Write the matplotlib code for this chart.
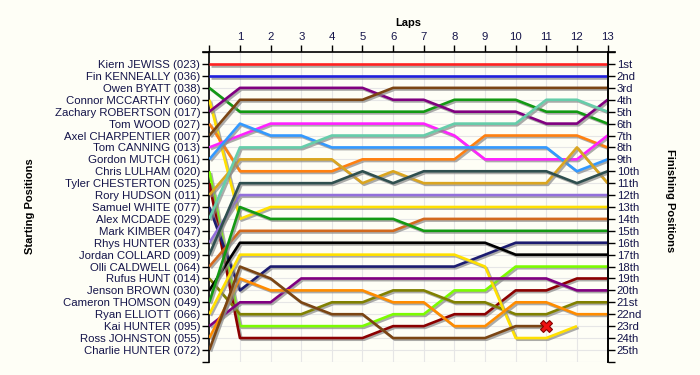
import matplotlib
matplotlib.use("Agg")
import matplotlib.pyplot as plt
import matplotlib.patheffects as pe

# laps (0 = starting grid)
laps = list(range(0, 14))

starters = [
    "Kiern JEWISS (023)", "Fin KENNEALLY (036)", "Owen BYATT (038)",
    "Connor MCCARTHY (060)", "Zachary ROBERTSON (017)", "Tom WOOD (027)",
    "Axel CHARPENTIER (007)", "Tom CANNING (013)", "Gordon MUTCH (061)",
    "Chris LULHAM (020)", "Tyler CHESTERTON (025)", "Rory HUDSON (011)",
    "Samuel WHITE (077)", "Alex MCDADE (029)", "Mark KIMBER (047)",
    "Rhys HUNTER (033)", "Jordan COLLARD (009)", "Olli CALDWELL (064)",
    "Rufus HUNT (014)", "Jenson BROWN (030)", "Cameron THOMSON (049)",
    "Ryan ELLIOTT (066)", "Kai HUNTER (095)", "Ross JOHNSTON (055)",
    "Charlie HUNTER (072)",
]

finish_labels = [
    "1st", "2nd", "3rd", "4th", "5th", "6th", "7th", "8th", "9th", "10th",
    "11th", "12th", "13th", "14th", "15th", "16th", "17th", "18th", "19th",
    "20th", "21st", "22nd", "23rd", "24th", "25th",
]

# position at the end of each lap, in starting order (None = not running)
pos_023 = [1, 1, 1, 1, 1, 1, 1, 1, 1, 1, 1, 1, 1, 1]
pos_036 = [2, 2, 2, 2, 2, 2, 2, 2, 2, 2, 2, 2, 2, 2]
pos_038 = [3, 5, 5, 5, 5, 5, 5, 5, 4, 4, 4, 5, 5, 6]
pos_060 = [4, 14, 13, 13, 13, 13, 13, 13, 13, 13, 13, 13, 13, 13]
pos_017 = [5, 3, 3, 3, 3, 3, 4, 4, 5, 5, 5, 6, 6, 4]
pos_027 = [6, 10, 10, 10, 10, 9, 9, 9, 9, 7, 7, 7, 7, 8]
pos_007 = [7, 4, 4, 4, 4, 4, 3, 3, 3, 3, 3, 3, 3, 3]
pos_013 = [8, 7, 6, 6, 6, 6, 6, 6, 7, 9, 9, 9, 9, 7]
pos_061 = [9, 6, 7, 7, 8, 8, 8, 8, 8, 8, 8, 8, 10, 9]
pos_020 = [10, 23, 23, 23, 23, 23, 22, 22, 20, 20, 18, 18, 18, 18]
pos_025 = [11, 24, 24, 24, 24, 24, 23, 23, 22, 22, 20, 20, 19, 19]
pos_011 = [12, 9, 9, 9, 9, 11, 10, 11, 11, 11, 11, 11, 8, 11]
pos_077 = [13, 20, 18, 18, 18, 18, 18, 18, 18, 17, 16, 16, 16, 16]
pos_029 = [14, 8, 8, 8, 7, 7, 7, 7, 6, 6, 6, 4, 4, 5]
pos_047 = [15]
pos_033 = [16, 12, 12, 12, 12, 12, 12, 12, 12, 12, 12, 12, 12, 12]
pos_009 = [17, 11, 11, 11, 11, 10, 11, 10, 10, 10, 10, 10, 11, 10]
pos_064 = [18, 15, 15, 15, 15, 15, 15, 14, 14, 14, 14, 14, 14, 14]
pos_014 = [19, 22, 22, 22, 21, 21, 20, 20, 21, 21, 22, 22, 21, 21]
pos_030 = [20, 16, 16, 16, 16, 16, 16, 16, 16, 16, 17, 17, 17, 17]
pos_049 = [21, 13, 14, 14, 14, 14, 14, 15, 15, 15, 15, 15, 15, 15]
pos_066 = [22, 17, 17, 17, 17, 17, 17, 17, 17, 18, 24, 24, 23]
pos_095 = [23, 21, 21, 19, 19, 19, 19, 19, 19, 19, 19, 19, 20, 20]
pos_055 = [24, 19, 20, 20, 20, 20, 21, 21, 23, 23, 21, 21, 22, 22]
pos_072 = [25, 18, 19, 21, 22, 22, 24, 24, 24, 24, 23, 23]

all_positions = [
    pos_023, pos_036, pos_038, pos_060, pos_017, pos_027, pos_007, pos_013,
    pos_061, pos_020, pos_025, pos_011, pos_077, pos_029, pos_047, pos_033,
    pos_009, pos_064, pos_014, pos_030, pos_049, pos_066, pos_095, pos_055,
    pos_072,
]

line_colors = [
    "#ff2222", "#2020dd", "#139913", "#ffe000", "#800080", "#ff8010",
    "#7b4513", "#ff22ff", "#3399ff", "#7cfc00", "#8b0000", "#daa520",
    "#1c1c70", "#66cdaa", "#888888", "#9370db", "#2f4f4f", "#d2691e",
    "#808000", "#000000", "#139913", "#ffe000", "#800080", "#ff8c00",
    "#7b4513",
]

# retirement (Charlie HUNTER)
retired_lap = 11
retired_pos = 23

BG = "#fefef6"
TXT = "#14144a"

fig = plt.figure(figsize=(7, 3.75), dpi=100, facecolor=BG)
ax = fig.add_axes([0.299, 0.035, 0.569, 0.826], facecolor=BG)

shadow = [pe.SimpleLineShadow(offset=(1.2, -1.2), shadow_color="#888888", alpha=0.7),
          pe.Normal()]

for pos, col in zip(all_positions, line_colors):
    if len(pos) < 2:
        continue
    ax.plot(laps[:len(pos)], pos, color=col, lw=1.9, solid_capstyle="butt",
            path_effects=shadow, zorder=3)

ax.plot(retired_lap, retired_pos, marker="X", ms=8, color="#ee1111",
        mec="#880000", mew=0.8, zorder=5)

ax.set_xlim(0, 13)
ax.set_ylim(26, 0)

ax.set_xticks(laps)
ax.set_xticklabels([""] + [str(l) for l in laps[1:]])
ax.xaxis.tick_top()
ax.set_yticks(range(27))
ax.set_yticklabels([""] + starters + [""])

ax.grid(True, color="#e6e6e6", lw=0.8, zorder=0)
ax.tick_params(axis="both", length=5, width=1.0, colors="black",
               labelcolor=TXT, labelsize=8.2, pad=1.5)
ax.tick_params(axis="x", pad=2)

for side in ["left", "top", "right"]:
    ax.spines[side].set_linewidth(1.2)
ax.spines["bottom"].set_visible(False)
ax.spines["top"].set_visible(False)
# top axis line, a little longer than the plot
ax.plot([-0.2, 13.25], [0, 0], color="black", lw=1.2, clip_on=False, zorder=6)

ax2 = ax.twinx()
ax2.set_ylim(26, 0)
ax2.set_yticks(range(27))
ax2.set_yticklabels([""] + finish_labels + [""])
ax2.tick_params(axis="y", length=5, width=1.0, labelcolor=TXT, labelsize=8.2, pad=1.5)
for side in ["left", "top", "bottom"]:
    ax2.spines[side].set_visible(False)
ax2.spines["right"].set_linewidth(1.2)

for t in ax.get_yticklabels() + ax2.get_yticklabels() + ax.get_xticklabels():
    t.set_fontfamily("Liberation Sans")

fig.text(0.583, 0.94, "Laps", ha="center", va="center", fontsize=8,
         fontweight="bold", family="Liberation Sans")
fig.text(0.043, 0.45, "Starting Positions", ha="center", va="center",
         rotation=90, fontsize=8, fontweight="bold", family="Liberation Sans")
fig.text(0.957, 0.465, "Finishing Positions", ha="center", va="center",
         rotation=270, fontsize=8, fontweight="bold", family="Liberation Sans")

fig.savefig("out.png", dpi=100, facecolor=BG)
